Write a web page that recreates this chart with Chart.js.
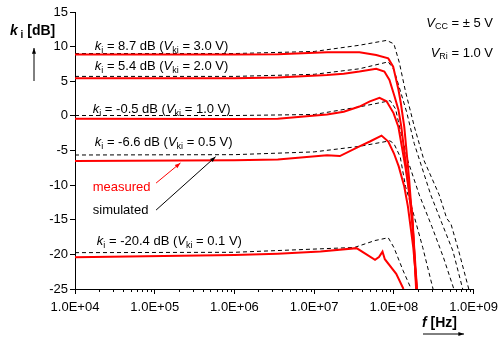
<!DOCTYPE html>
<html>
<head>
<meta charset="utf-8">
<script src="https://cdn.jsdelivr.net/npm/chart.js@4.4.1/dist/chart.umd.min.js"></script>
<style>
  html, body { margin: 0; padding: 0; background: #fff; }
</style>
</head>
<body>
<canvas id="myChart" width="504" height="338"></canvas>
<script>
// tick values
const xTicks = [1e4, 1e5, 1e6, 1e7, 1e8, 1e9];
const yTicks = [-25, -20, -15, -10, -5, 0, 5, 10, 15];

// measured (red), frequency in Hz / k_i in dB
const fMeas1 = [1e4, 1e6, 3.5e6, 1.45e7, 3.7e7, 6e7, 8.5e7, 9.8e7, 1.14e8, 1.22e8, 1.35e8, 1.55e8, 1.75e8, 1.95e8];
const kMeas1 = [8.85, 8.85, 8.9, 9.2, 9.2, 8.8, 8.3, 7.1, 3.8, 1.9, -1.6, -9, -17, -25];
const fMeas2 = [1e4, 1e6, 3.5e6, 1.45e7, 2.35e7, 3.7e7, 6e7, 7.6e7, 8.8e7, 1.02e8, 1.14e8, 1.24e8, 1.5e8, 1.72e8, 1.92e8];
const kMeas2 = [5.45, 5.45, 5.55, 5.9, 6.1, 6.4, 6.8, 6.4, 5.2, 2.8, 0.9, -1.6, -9.5, -16, -25];
const fMeas3 = [1e4, 1e6, 3.5e6, 1.45e7, 2.35e7, 3.7e7, 5e7, 6.6e7, 8.1e7, 9.9e7, 1.14e8, 1.4e8, 1.7e8, 1.9e8];
const kMeas3 = [-0.4, -0.45, -0.43, 0.2, 0.6, 1.35, 2.1, 2.6, 2.1, 0.4, -1.6, -7.5, -14, -25];
const fMeas4 = [1e4, 1e6, 3.5e6, 1.45e7, 2.1e7, 3.7e7, 5e7, 7e7, 8.5e7, 1.0e8, 1.15e8, 1.35e8, 1.5e8, 1.75e8, 1.95e8];
const kMeas4 = [-6.5, -6.4, -6.3, -5.7, -5.8, -4.4, -3.7, -2.85, -3.7, -5.4, -7.3, -10.2, -13.1, -19, -25];
const fMeas5 = [1e4, 1e6, 3.5e6, 1.2e7, 3.4e7, 5.8e7, 6.5e7, 7.2e7, 7.7e7, 1.07e8, 1.32e8];
const kMeas5 = [-20.4, -20.1, -19.9, -19.6, -19.1, -20.8, -20.4, -19.6, -20.7, -22.8, -25];

// simulated (black dashed)
const fSim1 = [1e4, 1e6, 1e7, 3.7e7, 8.1e7, 1.0e8, 1.17e8, 1.4e8, 1.8e8, 2.4e8, 3.7e8, 4.6e8, 5.2e8, 6.5e8, 8.7e8];
const kSim1 = [9.0, 9.0, 9.3, 10.2, 10.9, 10.4, 7.7, 3.5, -1.5, -6.5, -11.4, -14.8, -15.6, -19.5, -25];
const fSim2 = [1e4, 1e6, 1e7, 3.7e7, 8.5e7, 1.0e8, 1.17e8, 1.45e8, 1.8e8, 2.9e8, 4.0e8, 5.5e8, 7.3e8];
const kSim2 = [5.7, 5.7, 6.0, 6.8, 7.8, 6.7, 4.1, 0.5, -4, -11.4, -15.5, -19.5, -25];
const fSim3 = [1e4, 1e6, 1e7, 3.7e7, 9e7, 1.05e8, 1.2e8, 1.5e8, 2.08e8, 3.0e8, 4.2e8, 5.65e8];
const kSim3 = [0.05, 0.05, 0.2, 1.3, 2.2, 1.0, -2, -6.5, -11.4, -16, -20.5, -25];
const fSim4 = [1e4, 1e6, 1e7, 3.7e7, 8.9e7, 1.0e8, 1.2e8, 1.4e8, 1.75e8, 2.3e8, 3.1e8];
const kSim4 = [-5.65, -5.6, -5.2, -4.4, -3.6, -4.0, -5.9, -10.2, -14, -19, -25];
const fSim5 = [1e4, 1e6, 3.2e7, 5.8e7, 8.5e7, 1.0e8, 1.3e8, 1.65e8];
const kSim5 = [-19.75, -19.7, -19.0, -18.0, -17.6, -19, -22.3, -25];

const pts = (fs, ks) => fs.map((f, i) => ({x: f, y: ks[i]}));

const measured = (fs, ks) => ({
    data: pts(fs, ks), borderColor: '#ff0000', borderWidth: 2,
    pointRadius: 0, tension: 0, order: 1
});
const simulated = (fs, ks) => ({
    data: pts(fs, ks), borderColor: '#000000', borderWidth: 1, borderDash: [4, 3],
    pointRadius: 0, tension: 0, order: 2
});

const FONT = '"Liberation Sans", Arial, sans-serif';

// text with italic / subscript parts: [text, flags] flags: i = italic, b = bold, s = subscript
function rich(ctx, x, y, parts, size, align) {
    const fontOf = (fl, sz) => (fl.includes('i') ? 'italic ' : '') + (fl.includes('b') ? 'bold ' : '') + sz + 'px ' + FONT;
    let w = 0;
    parts.forEach(([t, fl]) => {
        const sz = fl.includes('s') ? Math.round(size * 0.72) : size;
        ctx.font = fontOf(fl, sz);
        w += ctx.measureText(t).width;
    });
    let cx = align === 'right' ? x - w : x;
    ctx.textAlign = 'left';
    ctx.textBaseline = 'middle';
    parts.forEach(([t, fl]) => {
        const sub = fl.includes('s');
        const sz = sub ? Math.round(size * 0.72) : size;
        ctx.font = fontOf(fl, sz);
        ctx.fillText(t, cx, sub ? y + size * 0.3 : y);
        cx += ctx.measureText(t).width;
    });
}

function arrow(ctx, x1, y1, x2, y2, color, head) {
    const a = Math.atan2(y2 - y1, x2 - x1);
    ctx.strokeStyle = color; ctx.fillStyle = color; ctx.lineWidth = 1;
    ctx.beginPath(); ctx.moveTo(x1, y1); ctx.lineTo(x2, y2); ctx.stroke();
    ctx.beginPath();
    ctx.moveTo(x2, y2);
    ctx.lineTo(x2 - head * Math.cos(a - 0.35), y2 - head * Math.sin(a - 0.35));
    ctx.lineTo(x2 - head * Math.cos(a + 0.35), y2 - head * Math.sin(a + 0.35));
    ctx.closePath(); ctx.fill();
}

const labels = [
    // [freq, dB, ki, Vki]
    [1.77e4, 10.0, '8.7', '3.0'],
    [1.77e4, 7.1, '5.4', '2.0'],
    [1.67e4, 0.9, '-0.5', '1.0'],
    [1.77e4, -3.8, '-6.6', '0.5'],
    [1.88e4, -18.1, '-20.4', '0.1']
];

const extras = {
    id: 'extras',
    afterDraw(chart) {
        const ctx = chart.ctx;
        const xs = chart.scales.x, ys = chart.scales.y;
        const X = v => xs.getPixelForValue(v), Y = v => ys.getPixelForValue(v);
        ctx.save();
        // minor ticks of the log axis
        ctx.strokeStyle = '#000'; ctx.lineWidth = 1;
        const b = chart.chartArea.bottom;
        for (let d = 1e4; d < 1e9; d *= 10) {
            for (let m = 2; m <= 9; m++) {
                const px = Math.round(X(m * d)) + 0.5;
                ctx.beginPath(); ctx.moveTo(px, b); ctx.lineTo(px, b + 3); ctx.stroke();
            }
        }
        ctx.fillStyle = '#000';
        labels.forEach(([f, db, k, v]) => {
            rich(ctx, X(f), Y(db), [['k', 'i'], ['i', 's'], [' = ' + k + ' dB (', ''], ['V', 'i'], ['ki', 's'], [' = ' + v + ' V)', '']], 13);
        });
        ctx.fillStyle = '#ff0000';
        rich(ctx, X(1.67e4), Y(-10.3), [['measured', '']], 13);
        ctx.fillStyle = '#000';
        rich(ctx, X(1.67e4), Y(-13.6), [['simulated', '']], 13);
        arrow(ctx, X(1.04e5), Y(-9.7), X(2.1e5), Y(-6.8), '#ff0000', 6);
        arrow(ctx, X(1.04e5), Y(-13.6), X(5.8e5), Y(-5.9), '#000', 6);

        ctx.fillStyle = '#000';
        rich(ctx, 493, 23, [['V', 'i'], ['CC', 's'], [' = \u00b1 5 V', '']], 13, 'right');
        rich(ctx, 493, 53, [['V', 'i'], ['Ri', 's'], [' = 1.0 V', '']], 13, 'right');

        // axis titles
        rich(ctx, 10, 31, [['k', 'ib'], [' i', 'bs'], [' [dB]', 'b']], 14);
        arrow(ctx, 34, 81, 34, 48, '#000', 6);
        rich(ctx, 422, 323, [['f', 'ib'], [' [Hz]', 'b']], 14);
        arrow(ctx, 423, 334, 464, 334, '#000', 6);
        ctx.restore();
    }
};

const myChart = new Chart(document.getElementById('myChart'), {
    type: 'line',
    data: {
        datasets: [
            measured(fMeas1, kMeas1), measured(fMeas2, kMeas2), measured(fMeas3, kMeas3),
            measured(fMeas4, kMeas4), measured(fMeas5, kMeas5),
            simulated(fSim1, kSim1), simulated(fSim2, kSim2), simulated(fSim3, kSim3),
            simulated(fSim4, kSim4), simulated(fSim5, kSim5)
        ]
    },
    options: {
        responsive: false,
        animation: false,
        devicePixelRatio: 1,
        layout: {padding: {top: 12, right: 26, left: 0, bottom: 0}},
        plugins: {legend: {display: false}, tooltip: {enabled: false}},
        scales: {
            x: {
                type: 'logarithmic',
                min: 1e4, max: 1e9,
                afterBuildTicks: s => { s.ticks = xTicks.map(v => ({value: v})); },
                afterFit: s => { s.height = 49; },
                ticks: {
                    color: '#000', font: {size: 13, family: FONT}, padding: 6, maxRotation: 0,
                    callback: v => v.toExponential(1).toUpperCase().replace(/E\+(\d)$/, 'E+0$1')
                },
                grid: {drawOnChartArea: false, drawTicks: true, tickLength: 5, color: '#000'},
                border: {color: '#000', width: 1}
            },
            y: {
                min: -25, max: 15,
                afterBuildTicks: s => { s.ticks = yTicks.map(v => ({value: v})); },
                afterFit: s => { s.width = 75; },
                ticks: {color: '#000', font: {size: 13, family: FONT}, padding: 2},
                grid: {drawOnChartArea: false, drawTicks: true, tickLength: 5, color: '#000'},
                border: {color: '#000', width: 1}
            }
        }
    },
    plugins: [extras]
});
</script>
</body>
</html>
